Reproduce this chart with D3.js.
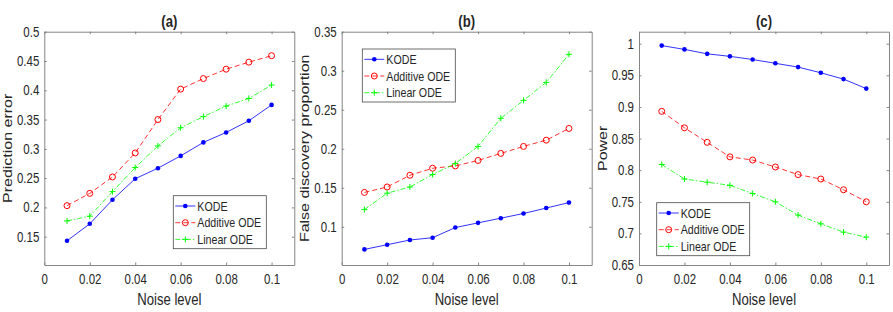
<!DOCTYPE html>
<html>
<head>
<meta charset="utf-8">
<script src="https://cdn.jsdelivr.net/npm/d3@7"></script>
<style>
  body { margin: 0; background: #fff; }
  text { font-family: "Liberation Sans", Arial, Helvetica, sans-serif; fill: #262626; }
</style>
</head>
<body>
<svg id="chart" width="893" height="312"></svg>
<script>
// noise levels on the x axis
const noiseLevel = [0.01, 0.02, 0.03, 0.04, 0.05, 0.06, 0.07, 0.08, 0.09, 0.1];
const seriesNames = ["KODE", "Additive ODE", "Linear ODE"];

// (a) prediction error
const predKODE = [0.143, 0.172, 0.213, 0.249, 0.267, 0.288, 0.311, 0.328, 0.348, 0.375];
const predAdditive = [0.203, 0.224, 0.252, 0.293, 0.350, 0.402, 0.420, 0.436, 0.448, 0.459];
const predLinear = [0.177, 0.185, 0.227, 0.268, 0.305, 0.336, 0.355, 0.373, 0.386, 0.409];

// (b) false discovery proportion
const fdpKODE = [0.071, 0.077, 0.083, 0.086, 0.099, 0.105, 0.111, 0.117, 0.124, 0.131];
const fdpAdditive = [0.144, 0.151, 0.166, 0.175, 0.178, 0.185, 0.194, 0.203, 0.211, 0.226];
const fdpLinear = [0.122, 0.143, 0.151, 0.167, 0.181, 0.203, 0.239, 0.262, 0.285, 0.321];

// (c) power
const powerKODE = [0.997, 0.991, 0.984, 0.980, 0.975, 0.969, 0.963, 0.954, 0.944, 0.929];
const powerAdditive = [0.893, 0.867, 0.844, 0.821, 0.816, 0.805, 0.793, 0.786, 0.769, 0.750];
const powerLinear = [0.809, 0.786, 0.781, 0.776, 0.763, 0.750, 0.729, 0.715, 0.702, 0.694];

// tick labels
const xTicks = [0, 0.02, 0.04, 0.06, 0.08, 0.1];
const predTicks = [0.15, 0.2, 0.25, 0.3, 0.35, 0.4, 0.45, 0.5];
const fdpTicks = [0.1, 0.15, 0.2, 0.25, 0.3, 0.35];
const powerTicks = [0.65, 0.7, 0.75, 0.8, 0.85, 0.9, 0.95, 1];

const styles = [
    { color: "#0000ff", dash: null, marker: "dot" },
    { color: "#ff0000", dash: "5,3", marker: "circle" },
    { color: "#00ff00", dash: "5,2,1.5,2", marker: "plus" }
];

const panels = [
    { title: "(a)", ylabel: "Prediction error", values: [predKODE, predAdditive, predLinear],
      yDomain: [0.1017, 0.5], yTicks: predTicks, left: 44.3, legend: [129, 164] },
    { title: "(b)", ylabel: "False discovery proportion", values: [fdpKODE, fdpAdditive, fdpLinear],
      yDomain: [0.051, 0.35], yTicks: fdpTicks, left: 341.7, legend: [20.6, 17.3] },
    { title: "(c)", ylabel: "Power", values: [powerKODE, powerAdditive, powerLinear],
      yDomain: [0.65, 1.019], yTicks: powerTicks, left: 639, legend: [17.7, 171] }
];

const SX = 0.82;          // the figure text is a bit squeezed sideways
const plotTop = 31.7, plotBottom = 265, plotW = 250;
const frameColor = "#858585";
const fmt = d3.format("~g");

const svg = d3.select("#chart");

function drawMarker(g, kind, color, x, y) {
    if (kind === "dot") {
        g.append("circle").attr("cx", x).attr("cy", y).attr("r", 2.3).attr("fill", color);
    } else if (kind === "circle") {
        g.append("circle").attr("cx", x).attr("cy", y).attr("r", 3)
            .attr("fill", "none").attr("stroke", color).attr("stroke-width", 1);
    } else {
        g.append("path").attr("d", `M${x - 3},${y}H${x + 3}M${x},${y - 3}V${y + 3}`)
            .attr("stroke", color).attr("stroke-width", 1);
    }
}

function styleAxis(g) {
    g.select(".domain").attr("stroke", frameColor);
    g.selectAll(".tick line").attr("stroke", frameColor);
}

function drawPanel(p) {
    const x = d3.scaleLinear().domain([0, 0.11]).range([p.left, p.left + plotW]);
    const y = d3.scaleLinear().domain(p.yDomain).range([plotBottom, plotTop]);
    const g = svg.append("g");

    // axes, ticks pointing inside, box on all four sides
    const xa = g.append("g").attr("transform", `translate(0,${plotBottom})`)
        .call(d3.axisBottom(x).tickValues(xTicks).tickFormat(fmt).tickSizeInner(-2.5).tickSizeOuter(0).tickPadding(9.5));
    const xt = g.append("g").attr("transform", `translate(0,${plotTop})`)
        .call(d3.axisTop(x).tickValues(xTicks).tickFormat("").tickSizeInner(-2.5).tickSizeOuter(0));
    const ya = g.append("g").attr("transform", `translate(${p.left},0)`)
        .call(d3.axisLeft(y).tickValues(p.yTicks).tickFormat(fmt).tickSizeInner(-2.5).tickSizeOuter(0).tickPadding(5));
    const yr = g.append("g").attr("transform", `translate(${p.left + plotW},0)`)
        .call(d3.axisRight(y).tickValues(p.yTicks).tickFormat("").tickSizeInner(-2.5).tickSizeOuter(0));
    [xa, xt, ya, yr].forEach(styleAxis);
    [xa, ya].forEach(a => a.selectAll(".tick text")
        .attr("font-size", 14).attr("fill", "#262626")
        .attr("font-family", "Liberation Sans, Arial, sans-serif"));
    xa.selectAll(".tick text").attr("transform", `scale(${SX},1)`);
    ya.selectAll(".tick text").attr("x", -5 / SX).attr("transform", `scale(${SX},1)`);

    // title and axis labels
    g.append("text").attr("transform", `translate(${p.left + plotW / 2},26.5) scale(${SX},1)`)
        .attr("text-anchor", "middle").attr("font-size", 16).attr("font-weight", "bold").text(p.title);
    g.append("text").attr("transform", `translate(${p.left + plotW / 2},305) scale(${SX},1)`)
        .attr("text-anchor", "middle").attr("font-size", 16).text("Noise level");
    g.append("text").attr("transform", `translate(${p.left - 32.5},${(plotTop + plotBottom) / 2}) scale(${SX},1) rotate(-90)`)
        .attr("text-anchor", "middle").attr("font-size", 16).text(p.ylabel);

    // series
    const line = d3.line().x((d, i) => x(noiseLevel[i])).y(d => y(d));
    p.values.forEach((vals, k) => {
        const s = styles[k];
        g.append("path").datum(vals).attr("d", line)
            .attr("fill", "none").attr("stroke", s.color).attr("stroke-width", 1)
            .attr("stroke-opacity", 0.8).attr("stroke-dasharray", s.dash);
        vals.forEach((v, i) => drawMarker(g, s.marker, s.color, x(noiseLevel[i]), y(v)));
    });

    // legend
    const lx = p.left + p.legend[0], ly = plotTop + p.legend[1];
    const lg = g.append("g");
    lg.append("rect").attr("x", lx).attr("y", ly).attr("width", 93).attr("height", 53)
        .attr("fill", "#fff").attr("stroke", "#4a4a4a").attr("stroke-width", 0.8);
    seriesNames.forEach((name, k) => {
        const s = styles[k];
        const ry = ly + 10.3 + k * 16.7;
        lg.append("line").attr("x1", lx + 2).attr("x2", lx + 22).attr("y1", ry).attr("y2", ry)
            .attr("stroke", s.color).attr("stroke-width", 1).attr("stroke-opacity", 0.8)
            .attr("stroke-dasharray", s.dash);
        drawMarker(lg, s.marker, s.color, lx + 12, ry);
        lg.append("text").attr("transform", `translate(${lx + 24},${ry}) scale(${SX},1)`)
            .attr("dy", "0.36em").attr("font-size", 13).text(name);
    });
}

panels.forEach(drawPanel);
</script>
</body>
</html>
